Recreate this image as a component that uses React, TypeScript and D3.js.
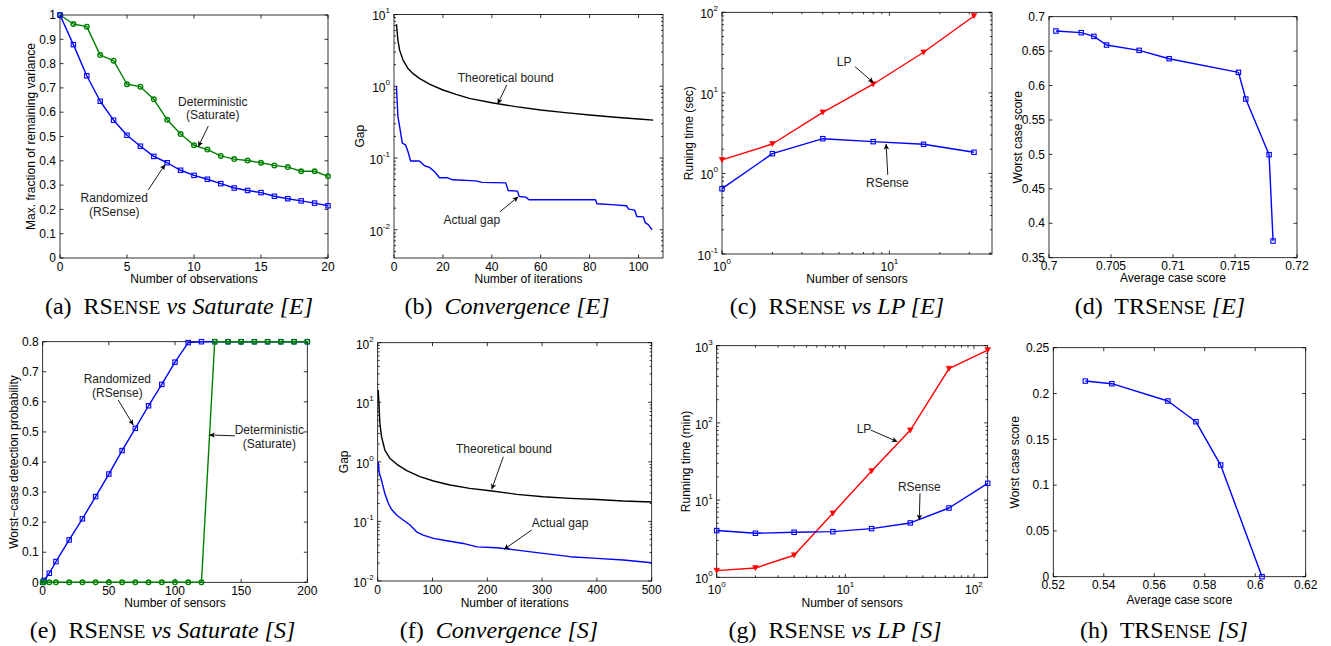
import React, { useEffect, useRef } from 'react';
import * as d3 from 'd3';

// (a) RSense vs Saturate [E]
const observations = [0, 1, 2, 3, 4, 5, 6, 7, 8, 9, 10, 11, 12, 13, 14, 15, 16, 17, 18, 19, 20];
const varianceRSenseE = [1.0, 0.878, 0.75, 0.645, 0.567, 0.505, 0.46, 0.418, 0.392, 0.361, 0.34, 0.324, 0.306, 0.288, 0.278, 0.269, 0.254, 0.244, 0.235, 0.226, 0.215];
const varianceSaturateE = [1.0, 0.963, 0.952, 0.835, 0.812, 0.715, 0.705, 0.653, 0.569, 0.51, 0.464, 0.446, 0.42, 0.407, 0.401, 0.392, 0.381, 0.374, 0.357, 0.357, 0.336];

// (b) Convergence [E]
const boundItersE = [1, 1.6, 2.3, 3.7, 5.7, 7.7, 10.4, 14.5, 20, 25.4, 30.8, 40, 49.8, 60, 70, 80, 90.5, 100, 106];
const boundGapE = [7.35, 4.4, 3.19, 2.32, 1.77, 1.51, 1.29, 1.07, 0.887, 0.771, 0.679, 0.59, 0.52, 0.467, 0.429, 0.398, 0.369, 0.35, 0.337];
const actualItersE = [1, 1.6, 2.3, 3.4, 4.7, 5.7, 6.8, 10.4, 12.5, 14.5, 16.5, 18.6, 22, 24, 33.5, 36, 45.7, 46.7, 50.5, 51.2, 53.9, 55.2, 82.4, 83, 89, 95, 96, 98.4, 99.3, 102, 102.7, 104, 105.5];
const actualGapE = [1.0, 0.377, 0.274, 0.161, 0.153, 0.123, 0.091, 0.091, 0.078, 0.074, 0.065, 0.053, 0.053, 0.0497, 0.048, 0.0458, 0.045, 0.0353, 0.0345, 0.0291, 0.0285, 0.0262, 0.0262, 0.023, 0.0224, 0.0216, 0.0194, 0.0188, 0.0153, 0.0151, 0.0126, 0.0118, 0.01];

// (c) RSense vs LP [E]
const sensorsE = [1, 2, 4, 8, 16, 32];
const lpSecE = [1.47, 2.32, 5.74, 12.8, 31.9, 90];
const rsenseSecE = [0.647, 1.76, 2.7, 2.48, 2.3, 1.83];

// (d) TRSense [E]
const avgScoreE = [0.70056, 0.7026, 0.70362, 0.70464, 0.70727, 0.70969, 0.71528, 0.71587, 0.71775, 0.71807];
const worstScoreE = [0.6792, 0.6768, 0.6714, 0.6589, 0.6511, 0.639, 0.6192, 0.5804, 0.4996, 0.3742];

// (e) RSense vs Saturate [S]
const sensorsDetS = [0, 1, 5, 10, 20, 30, 40, 50, 60, 70, 80, 90, 100, 110, 120, 130, 140, 150, 160, 170, 180, 190, 200];
const detRSenseS = [0, 0.006, 0.03, 0.069, 0.141, 0.211, 0.285, 0.36, 0.438, 0.512, 0.587, 0.658, 0.732, 0.797, 0.8, 0.8, 0.8, 0.8, 0.8, 0.8, 0.8, 0.8, 0.8];
const detSaturateS = [0, 0, 0, 0, 0, 0, 0, 0, 0, 0, 0, 0, 0, 0, 0, 0.8, 0.8, 0.8, 0.8, 0.8, 0.8, 0.8, 0.8];

// (f) Convergence [S]
const boundItersS = [1, 4, 7, 13, 22, 35, 53, 77, 102, 132, 168, 205, 254, 302, 351, 400, 448, 500];
const boundGapS = [16, 4.43, 2.65, 1.58, 1.15, 0.91, 0.71, 0.564, 0.477, 0.409, 0.359, 0.328, 0.285, 0.26, 0.244, 0.234, 0.22, 0.212];
const actualItersS = [1, 2.4, 7, 13, 19.5, 25.5, 35, 44, 59, 71, 83, 102, 126, 156, 181, 217, 254, 302, 351, 400, 448, 500];
const actualGapS = [1.0, 0.68, 0.49, 0.294, 0.2, 0.158, 0.127, 0.11, 0.087, 0.067, 0.059, 0.052, 0.0475, 0.0427, 0.0374, 0.0362, 0.033, 0.0291, 0.0256, 0.024, 0.0225, 0.0203];

// (g) RSense vs LP [S]
const sensorsS = [1, 2, 4, 8, 16, 32, 64, 128];
const lpMinS = [1.22, 1.32, 1.93, 6.75, 23.8, 80.2, 504, 879];
const rsenseMinS = [4.03, 3.72, 3.83, 3.9, 4.27, 5.06, 7.9, 16.5];

// (h) TRSense [S]
const avgScoreS = [0.5327, 0.5432, 0.5654, 0.5765, 0.5863, 0.6027];
const worstScoreS = [0.2136, 0.2107, 0.1918, 0.1692, 0.1219, 0];

// tick values (log axes list exponents)
const ticksA = { x: [0, 5, 10, 15, 20], y: [0, 0.1, 0.2, 0.3, 0.4, 0.5, 0.6, 0.7, 0.8, 0.9, 1] };
const ticksB = { x: [0, 20, 40, 60, 80, 100], y: [-2, -1, 0, 1] };
const ticksC = { x: [0, 1], y: [-1, 0, 1, 2] };
const ticksD = { x: [0.7, 0.705, 0.71, 0.715, 0.72], y: [0.35, 0.4, 0.45, 0.5, 0.55, 0.6, 0.65, 0.7] };
const ticksE = { x: [0, 50, 100, 150, 200], y: [0, 0.1, 0.2, 0.3, 0.4, 0.5, 0.6, 0.7, 0.8] };
const ticksF = { x: [0, 100, 200, 300, 400, 500], y: [-2, -1, 0, 1, 2] };
const ticksG = { x: [0, 1, 2], y: [0, 1, 2, 3] };
const ticksH = { x: [0.52, 0.54, 0.56, 0.58, 0.6, 0.62], y: [0, 0.05, 0.1, 0.15, 0.2, 0.25] };

const BLUE = '#0000ff';
const GREEN = '#008000';
const RED = '#ff0000';
const SANS = 'Liberation Sans, Arial, Helvetica, sans-serif';
const SERIF = 'Liberation Serif, Times New Roman, serif';

type Axis = { domain: [number, number]; log?: boolean; ticks: number[] };
type Series = { x: number[]; y: number[]; color: string; marker?: 'square' | 'circle' | 'tri' };
type Note = { lines: string[]; at: [number, number]; from: [number, number]; to: [number, number] };
type Panel = {
  box: [number, number, number, number];
  x: Axis;
  y: Axis;
  xLabel: string;
  xLabelDy: number;
  yLabel: string;
  yLabelX: number;
  series: Series[];
  notes: Note[];
  caption: [string, string][];
  capX: number;
  capY: number;
};

const panels: Panel[] = [
  {
    box: [60, 15, 328, 258],
    x: { domain: [0, 20], ticks: ticksA.x },
    y: { domain: [0, 1], ticks: ticksA.y },
    xLabel: 'Number of observations', xLabelDy: 25,
    yLabel: 'Max. fraction of remaining variance', yLabelX: 31,
    series: [
      { x: observations, y: varianceSaturateE, color: GREEN, marker: 'circle' },
      { x: observations, y: varianceRSenseE, color: BLUE, marker: 'square' },
    ],
    notes: [
      { lines: ['Deterministic', '(Saturate)'], at: [11.4, 0.643], from: [11.07, 0.543], to: [10.32, 0.458] },
      { lines: ['Randomized', '(RSense)'], at: [4.05, 0.246], from: [6.59, 0.28], to: [7.84, 0.385] },
    ],
    caption: [['(a)  ', ''], ['RS', ''], ['ENSE', 'sc'], [' ', ''], ['vs Saturate [E]', 'it']],
    capX: 179, capY: 314,
  },
  {
    box: [394, 14.5, 663, 258],
    x: { domain: [0, 110], ticks: ticksB.x },
    y: { domain: [0.00404, 10], log: true, ticks: ticksB.y },
    xLabel: 'Number of iterations', xLabelDy: 25,
    yLabel: 'Gap', yLabelX: 359.3,
    series: [
      { x: boundItersE, y: boundGapE, color: '#000' },
      { x: actualItersE, y: actualGapE, color: BLUE },
    ],
    notes: [
      { lines: ['Theoretical bound'], at: [45.7, 1.33], from: [46.1, 1.04], to: [42.4, 0.566] },
      { lines: ['Actual gap'], at: [31.8, 0.01367], from: [43.3, 0.0178], to: [50.8, 0.0288] },
    ],
    caption: [['(b)  ', ''], ['Convergence [E]', 'it']],
    capX: 507, capY: 314,
  },
  {
    box: [722, 12.3, 992, 254],
    x: { domain: [1, 41], log: true, ticks: ticksC.x },
    y: { domain: [0.1, 100], log: true, ticks: ticksC.y },
    xLabel: 'Number of sensors', xLabelDy: 29,
    yLabel: 'Runing time (sec)', yLabelX: 688.3,
    series: [
      { x: sensorsE, y: lpSecE, color: RED, marker: 'tri' },
      { x: sensorsE, y: rsenseSecE, color: BLUE, marker: 'square' },
    ],
    notes: [
      { lines: ['LP'], at: [5.36, 24.4], from: [6.24, 21.1], to: [8.03, 13.4] },
      { lines: ['RSense'], at: [9.73, 0.767], from: [9.78, 0.957], to: [9.55, 2.32] },
    ],
    caption: [['(c)  ', ''], ['RS', ''], ['ENSE', 'sc'], [' ', ''], ['vs LP [E]', 'it']],
    capX: 837, capY: 314,
  },
  {
    box: [1049, 16.7, 1297, 257.7],
    x: { domain: [0.7, 0.72], ticks: ticksD.x },
    y: { domain: [0.35, 0.7], ticks: ticksD.y },
    xLabel: 'Average case score', xLabelDy: 24,
    yLabel: 'Worst case score', yLabelX: 1017.3,
    series: [{ x: avgScoreE, y: worstScoreE, color: BLUE, marker: 'square' }],
    notes: [],
    caption: [['(d)  ', ''], ['TRS', ''], ['ENSE', 'sc'], [' ', ''], ['[E]', 'it']],
    capX: 1160, capY: 314,
  },
  {
    box: [42.7, 341.7, 307.3, 582.3],
    x: { domain: [0, 200], ticks: ticksE.x },
    y: { domain: [0, 0.8], ticks: ticksE.y },
    xLabel: 'Number of sensors', xLabelDy: 25,
    yLabel: 'Worst\u2212case detection probability', yLabelX: 13.3,
    series: [
      { x: sensorsDetS, y: detRSenseS, color: BLUE, marker: 'square' },
      { x: sensorsDetS, y: detSaturateS, color: GREEN, marker: 'circle' },
    ],
    notes: [
      { lines: ['Randomized', '(RSense)'], at: [56.4, 0.676], from: [57.1, 0.606], to: [68.5, 0.523] },
      { lines: ['Deterministic', '(Saturate)'], at: [171.3, 0.506], from: [145.3, 0.487], to: [125.9, 0.49] },
    ],
    caption: [['(e)  ', ''], ['RS', ''], ['ENSE', 'sc'], [' ', ''], ['vs Saturate [S]', 'it']],
    capX: 162.5, capY: 638,
  },
  {
    box: [377.7, 342.7, 651.7, 581],
    x: { domain: [0, 500], ticks: ticksF.x },
    y: { domain: [0.01, 100], log: true, ticks: ticksF.y },
    xLabel: 'Number of iterations', xLabelDy: 26,
    yLabel: 'Gap', yLabelX: 343.3,
    series: [
      { x: boundItersS, y: boundGapS, color: '#000' },
      { x: actualItersS, y: actualGapS, color: BLUE },
    ],
    notes: [
      { lines: ['Theoretical bound'], at: [230.5, 1.64], from: [229.2, 1.22], to: [208, 0.346] },
      { lines: ['Actual gap'], at: [332.7, 0.0952], from: [281, 0.0718], to: [230.5, 0.034] },
    ],
    caption: [['(f)  ', ''], ['Convergence [S]', 'it']],
    capX: 499, capY: 638,
  },
  {
    box: [716.7, 345.7, 987.7, 577.3],
    x: { domain: [1, 128], log: true, ticks: ticksG.x },
    y: { domain: [1, 1000], log: true, ticks: ticksG.y },
    xLabel: 'Number of sensors', xLabelDy: 30,
    yLabel: 'Running time (min)', yLabelX: 686,
    series: [
      { x: sensorsS, y: lpMinS, color: RED, marker: 'tri' },
      { x: sensorsS, y: rsenseMinS, color: BLUE, marker: 'square' },
    ],
    notes: [
      { lines: ['LP'], at: [13.97, 85.1], from: [15.76, 80.9], to: [25.4, 57.1] },
      { lines: ['RSense'], at: [37.6, 14.65], from: [38.1, 12.25], to: [37.6, 5.52] },
    ],
    caption: [['(g)  ', ''], ['RS', ''], ['ENSE', 'sc'], [' ', ''], ['vs LP [S]', 'it']],
    capX: 835, capY: 638,
  },
  {
    box: [1053.3, 347.7, 1305.7, 576.7],
    x: { domain: [0.52, 0.62], ticks: ticksH.x },
    y: { domain: [0, 0.25], ticks: ticksH.y },
    xLabel: 'Average case score', xLabelDy: 27.5,
    yLabel: 'Worst case score', yLabelX: 1015,
    series: [{ x: avgScoreS, y: worstScoreS, color: BLUE, marker: 'square' }],
    notes: [],
    caption: [['(h)  ', ''], ['TRS', ''], ['ENSE', 'sc'], [' ', ''], ['[S]', 'it']],
    capX: 1164, capY: 638,
  },
];

function drawPanel(svg: d3.Selection<SVGSVGElement, unknown, null, undefined>, p: Panel) {
  const [l, t, r, b] = p.box;
  const xs: any = p.x.log ? d3.scaleLog().domain(p.x.domain).range([l, r]) : d3.scaleLinear().domain(p.x.domain).range([l, r]);
  const ys: any = p.y.log ? d3.scaleLog().domain(p.y.domain).range([b, t]) : d3.scaleLinear().domain(p.y.domain).range([b, t]);
  const g = svg.append('g');

  // box
  g.append('rect').attr('x', l).attr('y', t).attr('width', r - l).attr('height', b - t)
    .attr('fill', '#fff').attr('stroke', '#000').attr('stroke-width', 0.8);

  const minor = (a: Axis) => {
    const out: number[] = [];
    const lo = Math.floor(Math.log10(a.domain[0]));
    const hi = Math.ceil(Math.log10(a.domain[1]));
    for (let e = lo; e <= hi; e++) {
      for (let m = 2; m <= 9; m++) {
        const v = m * Math.pow(10, e);
        if (v > a.domain[0] && v < a.domain[1]) out.push(v);
      }
    }
    return out;
  };
  const tick = (x1: number, y1: number, x2: number, y2: number) =>
    g.append('line').attr('x1', x1).attr('y1', y1).attr('x2', x2).attr('y2', y2)
      .attr('stroke', '#000').attr('stroke-width', 0.8);

  // x ticks
  const xMajor = p.x.log ? p.x.ticks.map(e => Math.pow(10, e)) : p.x.ticks;
  xMajor.forEach((v, i) => {
    const px = xs(v);
    tick(px, b, px, b - 3.5);
    tick(px, t, px, t + 3.5);
    if (p.x.log) {
      const txt = g.append('text').attr('x', px).attr('y', b + 16.5).attr('text-anchor', 'middle')
        .style('font-family', SANS).style('font-size', '12px');
      txt.append('tspan').text('10');
      txt.append('tspan').attr('dy', -7).style('font-size', '8px').text(String(p.x.ticks[i]));
    } else {
      g.append('text').attr('x', px).attr('y', b + 12.7).attr('text-anchor', 'middle')
        .style('font-family', SANS).style('font-size', '12px').text(String(v));
    }
  });
  if (p.x.log) minor(p.x).forEach(v => { const px = xs(v); tick(px, b, px, b - 2); tick(px, t, px, t + 2); });

  // y ticks
  const yMajor = p.y.log ? p.y.ticks.map(e => Math.pow(10, e)) : p.y.ticks;
  yMajor.forEach((v, i) => {
    const py = ys(v);
    tick(l, py, l + 3.5, py);
    tick(r, py, r - 3.5, py);
    if (p.y.log) {
      const txt = g.append('text').attr('x', l - 4).attr('y', py + 5.8).attr('text-anchor', 'end')
        .style('font-family', SANS).style('font-size', '12px');
      txt.append('tspan').text('10');
      txt.append('tspan').attr('dy', -6.8).style('font-size', '8px').text(String(p.y.ticks[i]));
    } else {
      g.append('text').attr('x', l - 4).attr('y', py + 4.2).attr('text-anchor', 'end')
        .style('font-family', SANS).style('font-size', '12px').text(String(v));
    }
  });
  if (p.y.log) minor(p.y).forEach(v => { const py = ys(v); tick(l, py, l + 2, py); tick(r, py, r - 2, py); });

  // axis labels
  g.append('text').attr('x', (l + r) / 2).attr('y', b + p.xLabelDy).attr('text-anchor', 'middle')
    .style('font-family', SANS).style('font-size', '12px').text(p.xLabel);
  g.append('text').attr('transform', `translate(${p.yLabelX},${(t + b) / 2}) rotate(-90)`)
    .attr('text-anchor', 'middle').attr('dy', '0.35em')
    .style('font-family', SANS).style('font-size', '12px').text(p.yLabel);

  // series
  const line = d3.line<[number, number]>().x(d => xs(d[0])).y(d => ys(d[1]));
  p.series.forEach(s => {
    const pts: [number, number][] = s.x.map((x, i) => [x, s.y[i]]);
    g.append('path').attr('d', line(pts) as string).attr('fill', 'none')
      .attr('stroke', s.color).attr('stroke-width', 1.4).attr('stroke-linejoin', 'round');
    pts.forEach(d => {
      const cx = xs(d[0]);
      const cy = ys(d[1]);
      if (s.marker === 'square') {
        g.append('rect').attr('x', cx - 2.2).attr('y', cy - 2.2).attr('width', 4.4).attr('height', 4.4)
          .attr('fill', 'none').attr('stroke', s.color).attr('stroke-width', 1.1);
      } else if (s.marker === 'circle') {
        g.append('circle').attr('cx', cx).attr('cy', cy).attr('r', 2.3)
          .attr('fill', 'none').attr('stroke', s.color).attr('stroke-width', 1.4);
      } else if (s.marker === 'tri') {
        g.append('path').attr('d', `M${cx - 2.8},${cy - 2.4}L${cx + 2.8},${cy - 2.4}L${cx},${cy + 2.6}Z`)
          .attr('fill', s.color).attr('stroke', s.color).attr('stroke-width', 0.6);
      }
    });
  });

  // annotations
  p.notes.forEach(n => {
    n.lines.forEach((ln, i) => {
      g.append('text').attr('x', xs(n.at[0])).attr('y', ys(n.at[1]) + i * 13.5).attr('dy', '0.35em')
        .attr('text-anchor', 'middle').style('font-family', SANS).style('font-size', '12px')
        .style('fill', '#222').text(ln);
    });
    g.append('line').attr('x1', xs(n.from[0])).attr('y1', ys(n.from[1]))
      .attr('x2', xs(n.to[0])).attr('y2', ys(n.to[1]))
      .attr('stroke', '#000').attr('stroke-width', 0.9).attr('marker-end', 'url(#arrowHead)');
  });

  // caption
  const cap = svg.append('text').attr('x', p.capX).attr('y', p.capY).attr('text-anchor', 'middle')
    .style('font-family', SERIF).style('font-size', '24px').style('white-space', 'pre');
  p.caption.forEach(([txt, kind]) => {
    const sp = cap.append('tspan').text(txt);
    if (kind === 'it') sp.style('font-style', 'italic');
    if (kind === 'sc') sp.style('font-size', '19px');
  });
}

const App: React.FC = () => {
  const svgRef = useRef<SVGSVGElement>(null);

  useEffect(() => {
    if (!svgRef.current) return;
    const svg = d3.select(svgRef.current);
    svg.selectAll('*').remove();

    svg.append('defs').append('marker')
      .attr('id', 'arrowHead').attr('viewBox', '0 0 10 10')
      .attr('refX', 10).attr('refY', 5)
      .attr('markerWidth', 7).attr('markerHeight', 5.5)
      .attr('markerUnits', 'userSpaceOnUse').attr('orient', 'auto')
      .append('path').attr('d', 'M0,0L10,5L0,10L2.5,5Z').attr('fill', '#000');

    panels.forEach(p => drawPanel(svg, p));
  }, []);

  return (
    <svg
      ref={svgRef}
      width={1331}
      height={646}
      style={{ position: 'absolute', left: 0, top: 0, background: '#fff', display: 'block' }}
    />
  );
};

export default App;
